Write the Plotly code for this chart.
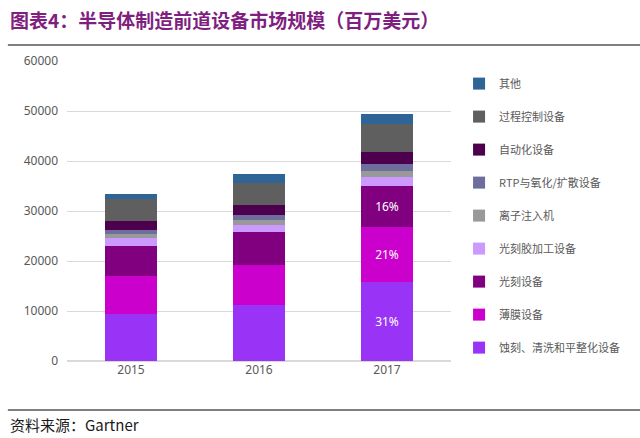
import plotly.graph_objects as go

years = ["2015", "2016", "2017"]

# segments from bottom to top (millions USD)
series_names = ["蚀刻、清洗和平整化设备", "薄膜设备", "光刻设备", "光刻胶加工设备",
                "离子注入机", "RTP与氧化/扩散设备", "自动化设备", "过程控制设备", "其他"]
etch = [9500, 11200, 15800]
thin_film = [7500, 8100, 11100]
litho = [6100, 6500, 8100]
resist = [1500, 1500, 1800]
ion_impl = [900, 900, 1300]
rtp = [700, 1000, 1300]
automation = [1800, 2000, 2500]
process_ctrl = [4500, 4500, 5500]
other = [1000, 1800, 2000]
pct_labels = {0: ["", "", "31%"], 1: ["", "", "21%"], 2: ["", "", "16%"]}

colors = ["#9933F5", "#CC00CC", "#800080", "#CC99FF", "#999999",
          "#6E6E9E", "#4D004D", "#5F5F5F", "#2E6496"]

values = [etch, thin_film, litho, resist, ion_impl, rtp, automation, process_ctrl, other]

fig = go.Figure()
for i, (name, vals) in enumerate(zip(series_names, values)):
    fig.add_trace(go.Bar(
        x=years, y=vals, name=name, marker_color=colors[i],
        marker_line_width=0, legendgroup=name, legendrank=len(values) - i,
        text=pct_labels.get(i, ["", "", ""]), textposition="inside",
        insidetextanchor="middle", textangle=0,
        textfont=dict(color="white", size=12, family="Noto Sans"),
        hoverinfo="skip"))

fig.update_layout(
    barmode="stack", bargap=0.6,
    width=640, height=438,
    margin=dict(l=67, r=189, t=61, b=77),
    plot_bgcolor="white", paper_bgcolor="white",
    font=dict(family="Noto Sans CJK SC", color="#595959"),
    showlegend=True,
    legend=dict(x=1.021, y=0.973, xanchor="left", yanchor="top",
                traceorder="grouped", tracegroupgap=14,
                font=dict(size=11, color="#595959"),
                itemwidth=30, bgcolor="rgba(0,0,0,0)"),
    uniformtext=dict(mode="show", minsize=12),
)
fig.update_yaxes(range=[0, 60000], dtick=10000, tickformat="d", showgrid=True,
                 gridcolor="#D9D9D9", zeroline=True, zerolinecolor="#D9D9D9",
                 tickfont=dict(size=12, color="#595959", family="Noto Sans"),
                 ticks="", ticklabelstandoff=8)
fig.update_xaxes(showline=False, tickfont=dict(size=12, color="#595959", family="Noto Sans"),
                 ticks="")

fig.add_annotation(text="<b>图表4：半导体制造前道设备市场规模（百万美元）</b>",
                   xref="paper", yref="paper", x=-0.153, y=1.137,
                   xanchor="left", yanchor="middle", showarrow=False,
                   font=dict(size=19, color="#7F1F7F", family="Noto Sans CJK SC"))
fig.add_annotation(text="资料来源：Gartner",
                   xref="paper", yref="paper", x=-0.153, y=-0.213,
                   xanchor="left", yanchor="middle", showarrow=False,
                   font=dict(size=15, color="#1A1A1A", family="Noto Sans CJK SC"))
fig.add_shape(type="line", xref="paper", yref="paper", x0=-0.154, x1=1.5,
              y0=1.053, y1=1.053, line=dict(color="#555555", width=1.5))
fig.add_shape(type="line", xref="paper", yref="paper", x0=-0.154, x1=1.5,
              y0=-0.163, y1=-0.163, line=dict(color="#555555", width=1.5))

fig.write_html("out.html", config={"displayModeBar": False},
               post_script="document.body.style.margin='0';")
